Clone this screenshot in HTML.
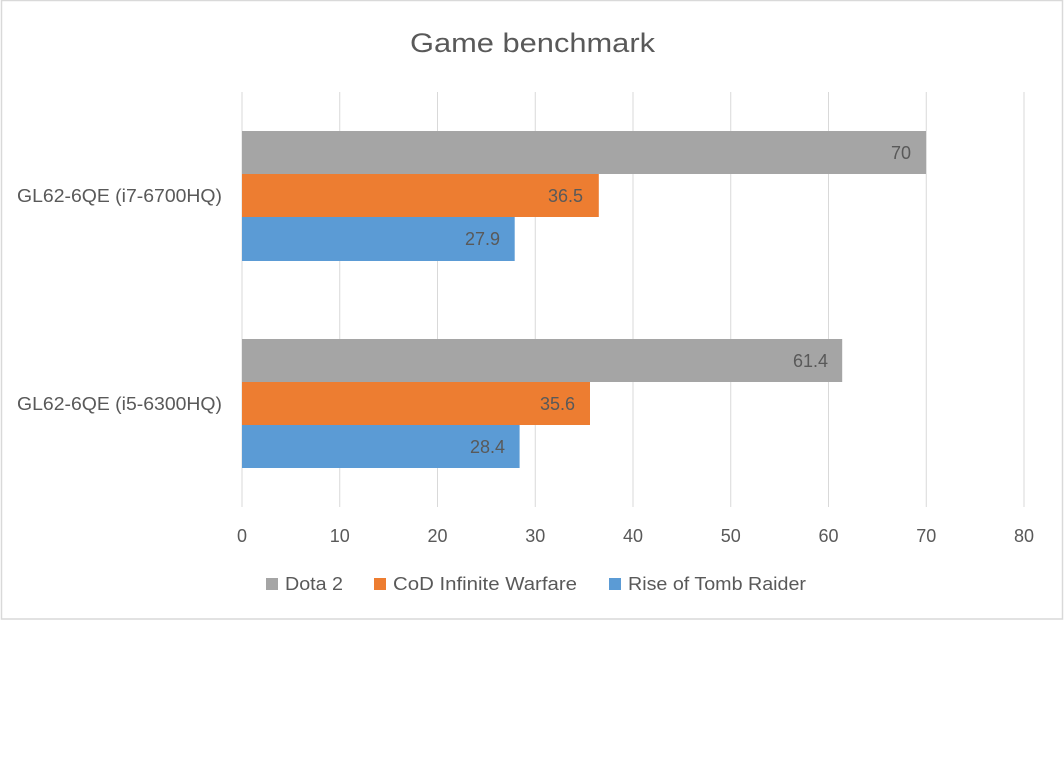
<!DOCTYPE html>
<html><head><style>body{margin:0;background:#fff}svg{display:block}text{font-family:"Liberation Sans",sans-serif;fill:#595959}</style></head>
<body>
<svg width="1064" height="768" xmlns="http://www.w3.org/2000/svg">
<rect x="1.5" y="0.5" width="1061" height="618.5" fill="#fff" stroke="#d9d9d9" stroke-width="1.5"/>
<text x="410" y="52" font-size="27" textLength="245" lengthAdjust="spacingAndGlyphs">Game benchmark</text>
<g stroke="#d9d9d9" stroke-width="1">
<line x1="242" y1="92" x2="242" y2="507"/><line x1="339.75" y1="92" x2="339.75" y2="507"/>
<line x1="437.5" y1="92" x2="437.5" y2="507"/><line x1="535.25" y1="92" x2="535.25" y2="507"/>
<line x1="633" y1="92" x2="633" y2="507"/><line x1="730.75" y1="92" x2="730.75" y2="507"/>
<line x1="828.5" y1="92" x2="828.5" y2="507"/><line x1="926.25" y1="92" x2="926.25" y2="507"/>
<line x1="1024" y1="92" x2="1024" y2="507"/>
</g>
<rect x="242" y="131" width="684" height="43" fill="#a5a5a5"/>
<rect x="242" y="174" width="356.8" height="43" fill="#ed7d31"/>
<rect x="242" y="217" width="272.7" height="44" fill="#5b9bd5"/>
<rect x="242" y="339" width="600.2" height="43" fill="#a5a5a5"/>
<rect x="242" y="382" width="348" height="43" fill="#ed7d31"/>
<rect x="242" y="425" width="277.6" height="43" fill="#5b9bd5"/>
<g font-size="18" text-anchor="end" style="fill:#404040">
<text x="911" y="159">70</text><text x="583" y="202">36.5</text><text x="500" y="245">27.9</text>
<text x="828" y="367">61.4</text><text x="575" y="410">35.6</text><text x="505" y="453">28.4</text>
</g>
<g font-size="18">
<text x="17" y="202" textLength="205" lengthAdjust="spacingAndGlyphs">GL62-6QE (i7-6700HQ)</text>
<text x="17" y="410" textLength="205" lengthAdjust="spacingAndGlyphs">GL62-6QE (i5-6300HQ)</text>
</g>
<g font-size="18" text-anchor="middle">
<text x="242" y="542">0</text><text x="339.75" y="542">10</text><text x="437.5" y="542">20</text>
<text x="535.25" y="542">30</text><text x="633" y="542">40</text><text x="730.75" y="542">50</text>
<text x="828.5" y="542">60</text><text x="926.25" y="542">70</text><text x="1024" y="542">80</text>
</g>
<g font-size="18">
<rect x="266" y="578" width="12" height="12" fill="#a5a5a5"/><text x="285" y="590" textLength="58" lengthAdjust="spacingAndGlyphs">Dota 2</text>
<rect x="374" y="578" width="12" height="12" fill="#ed7d31"/><text x="393" y="590" textLength="184" lengthAdjust="spacingAndGlyphs">CoD Infinite Warfare</text>
<rect x="609" y="578" width="12" height="12" fill="#5b9bd5"/><text x="628" y="590" textLength="178" lengthAdjust="spacingAndGlyphs">Rise of Tomb Raider</text>
</g>
</svg>
</body></html>
